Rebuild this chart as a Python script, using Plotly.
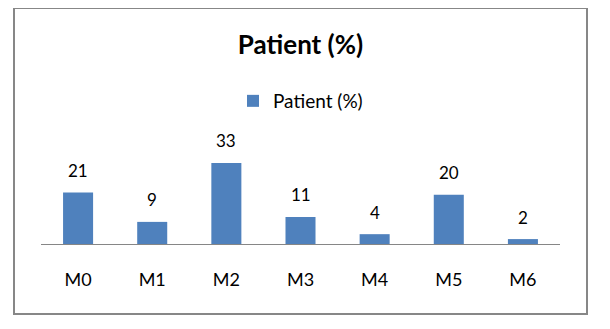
import plotly.graph_objects as go

categories = ["M0", "M1", "M2", "M3", "M4", "M5", "M6"]
values = [21, 9, 33, 11, 4, 20, 2]
series_name = "Patient (%)"
title_text = "Patient (%)"

FONT = "Lato, 'Open Sans', sans-serif"
BAR_COLOR = "#4F81BD"

# page body has an 8px margin, so figure coordinates are window - 8
OFF = 8
L, R, T, B = 41 - OFF, 610 - (560 - OFF), 131 - OFF, 329 - (244 - OFF)
PW, PH = 610 - L - R, 329 - T - B
fx = lambda px: (px - OFF - L) / PW
fy = lambda py: (329 - B - (py - OFF)) / PH

fig = go.Figure()
fig.add_trace(go.Bar(
    x=categories, y=values, name=series_name,
    marker=dict(color=BAR_COLOR, line=dict(width=0)),
    showlegend=True,
))

for c, v in zip(categories, values):
    fig.add_annotation(
        x=c, y=v, text=str(v), showarrow=False,
        yshift=22, yanchor="middle", xanchor="center",
        font=dict(family=FONT, size=17, color="#000000"),
    )

# outer chart border
fig.add_shape(
    type="rect", xref="paper", yref="paper",
    x0=fx(14), x1=fx(587), y0=fy(314), y1=fy(8),
    line=dict(color="#878787", width=2), fillcolor="rgba(0,0,0,0)",
    layer="below",
)

fig.update_layout(
    width=610, height=329,
    margin=dict(l=L, r=R, t=T, b=B, pad=0),
    paper_bgcolor="white", plot_bgcolor="white",
    bargap=0.595,
    title=dict(
        text=f"<b>{title_text}</b>", x=0.5, xref="paper", xanchor="center",
        y=1 - (45 - OFF) / 329, yref="container", yanchor="middle",
        font=dict(family=FONT, size=26, color="#000000"),
    ),
    legend=dict(
        orientation="h", x=0.5, xanchor="center",
        y=1 - (101 - OFF) / 329, yref="container", yanchor="middle",
        font=dict(family=FONT, size=19, color="#000000"),
        itemwidth=30, bgcolor="rgba(0,0,0,0)",
    ),
    xaxis=dict(
        showline=True, linecolor="#868686", linewidth=1,
        ticks="outside", ticklen=19, tickcolor="rgba(0,0,0,0)",
        tickfont=dict(family=FONT, size=18, color="#000000"),
        showgrid=False, zeroline=False, fixedrange=True,
    ),
    yaxis=dict(
        range=[0, 46], visible=False, showgrid=False, zeroline=False,
        fixedrange=True,
    ),
)

fig.write_html("out.html")
